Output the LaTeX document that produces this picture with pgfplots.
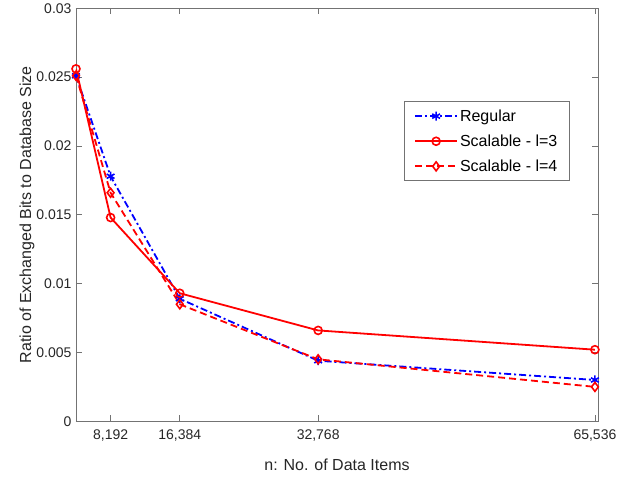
\documentclass[border=0pt]{standalone}
\usepackage{fontspec}
\setmainfont{Liberation Sans}
\usepackage{pgfplots}
\pgfplotsset{compat=1.18}
\definecolor{axgray}{gray}{0.45}
\definecolor{txtgray}{gray}{0.15}

\begin{document}
\begin{tikzpicture}
\begin{axis}[
    scale only axis,
    width=522pt, height=413pt,
    xmin=4096, xmax=65900,
    ymin=0, ymax=0.03,
    xtick={8192,16384,32768,65536},
    xticklabels={8{,}192,16{,}384,32{,}768,65{,}536},
    ytick={0,0.005,0.01,0.015,0.02,0.025,0.03},
    yticklabels={0,0.005,0.01,0.015,0.02,0.025,0.03},
    scaled x ticks=false, scaled y ticks=false,
    /pgf/number format/assume math mode=true,
    axis line style={axgray, line width=0.8pt},
    tick style={axgray, line width=0.8pt},
    major tick length=6pt,
    tick align=inside,
    ticklabel style={txtgray, font=\fontsize{14pt}{16pt}\selectfont},
    xticklabel style={yshift=-5pt},
    yticklabel style={xshift=-1pt},
    label style={txtgray, font=\fontsize{16pt}{18pt}\selectfont},
    xlabel={n: No. of Data Items},
    ylabel={Ratio of Exchanged Bits to Database Size},
    xlabel style={yshift=-11pt},
    ylabel style={yshift=-5pt},
    legend style={at={(0.946,0.775)}, anchor=north east, draw=axgray,
        line width=0.8pt, font=\fontsize{16pt}{18pt}\selectfont,
        text=black, inner xsep=10pt, inner ysep=6pt, row sep=8pt,
        cells={anchor=west}},
    legend image code/.code={\draw[mark repeat=2,mark phase=2] plot coordinates {(0pt,0pt) (21pt,0pt) (42pt,0pt)};},
    legend cell align=left,
]
\addplot[blue, line width=1.8pt, dash pattern=on 7pt off 3pt on 2pt off 3pt,
    mark=asterisk, mark size=4.5pt, mark options={solid, line width=1.6pt}] coordinates {
    (4096,0.0251) (8192,0.0178) (16384,0.0089) (32768,0.0044) (65536,0.0030)
};
\addlegendentry{Regular}
\addplot[red, line width=1.8pt,
    mark=o, mark size=4pt, mark options={solid, line width=1.6pt}] coordinates {
    (4096,0.0256) (8192,0.0148) (16384,0.0093) (32768,0.0066) (65536,0.0052)
};
\addlegendentry{Scalable - l=3}
\addplot[red, line width=1.8pt, dash pattern=on 7pt off 4pt,
    mark=diamond, mark size=4.5pt, mark options={solid, line width=1.6pt}] coordinates {
    (4096,0.0251) (8192,0.0166) (16384,0.0085) (32768,0.0045) (65536,0.0025)
};
\addlegendentry{Scalable - l=4}
\end{axis}
\path[use as bounding box] (-76pt,-61pt) rectangle (562pt,421pt);
\end{tikzpicture}
\end{document}
